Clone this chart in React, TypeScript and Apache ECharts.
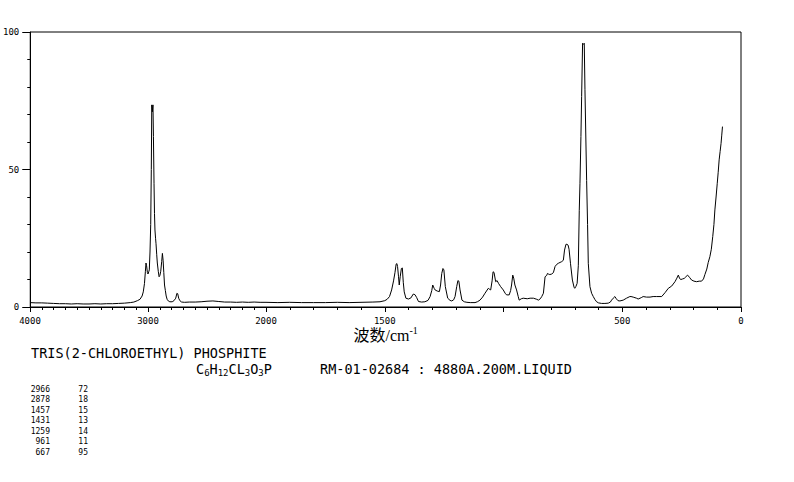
import React, { useEffect, useRef } from "react";
import * as echarts from "echarts";

// Raman spectrum trace (wavenumber cm-1, intensity %)
const wavenumbers = [
  4000, 3950, 3900, 3850, 3800, 3750, 3700, 3650, 3600, 3550, 3500, 3450, 3400, 3350, 3300, 3250, 3200, 3150, 3120, 3090,
  3068, 3050, 3040, 3030, 3022, 3017, 3012, 3005, 3000, 2994, 2989, 2983, 2977, 2972, 2968, 2963, 2958, 2954, 2949, 2945,
  2941, 2936, 2932, 2926, 2921, 2913, 2906, 2899, 2892, 2884, 2878, 2872, 2866, 2860, 2853, 2846, 2838, 2828, 2815, 2795,
  2780, 2765, 2755, 2748, 2740, 2730, 2715, 2690, 2650, 2600, 2550, 2500, 2450, 2400, 2350, 2300, 2250, 2200, 2150, 2100,
  2050, 2000, 1950, 1900, 1850, 1800, 1750, 1700, 1650, 1600, 1550, 1520, 1500, 1490, 1480, 1471, 1463, 1457, 1452, 1449,
  1446, 1442, 1439, 1435, 1430, 1426, 1422, 1418, 1411, 1400, 1390, 1380, 1373, 1366, 1358, 1345, 1331, 1318, 1309, 1302,
  1298, 1292, 1288, 1279, 1270, 1265, 1260, 1255, 1251, 1245, 1235, 1225, 1218, 1210, 1204, 1197, 1192, 1188, 1183, 1175,
  1165, 1154, 1140, 1120, 1110, 1099, 1088, 1078, 1064, 1058, 1054, 1048, 1044, 1040, 1033, 1027, 1021, 1012, 1001, 993,
  987, 976, 970, 966, 961, 957, 952, 945, 938, 934, 925, 917, 900, 888, 874, 860, 853, 845, 839, 832,
  825, 818, 815, 811, 805, 797, 790, 783, 776, 769, 762, 755, 748, 743, 737, 733, 728, 724, 718, 710,
  703, 700, 695, 690, 685, 681, 678, 674, 671, 667, 664, 660, 657, 653, 650, 646, 643, 636, 629, 622,
  615, 608, 600, 587, 573, 559, 550, 545, 538, 531, 525, 518, 510, 496, 482, 468, 463, 454, 440, 433,
  420, 412, 398, 383, 370, 355, 334, 320, 306, 292, 278, 270, 264, 258, 253, 246, 239, 232, 225, 217,
  208, 198, 187, 176, 166, 158, 152, 144, 138, 131, 125, 119, 114, 110, 105, 100, 96, 92, 88, 84,
  81, 78,
];
const intensities = [
  1.6, 1.5, 1.5, 1.4, 1.3, 1.2, 1.2, 1.1, 1.2, 1.1, 1.1, 1.2, 1.1, 1.2, 1.2, 1.3, 1.4, 1.6, 1.8, 2.3,
  2.8, 4.0, 5.5, 8.5, 13, 16, 15, 12.5, 12, 12.8, 13.5, 20, 30, 50, 73.5, 71, 73.5, 62, 45, 34,
  28, 25, 23, 19, 16, 13, 11, 11.5, 13, 16.5, 19.5, 17, 12.5, 8, 6, 4, 2.8, 2.2, 1.9, 1.9,
  2.3, 3.2, 5.0, 4.8, 3.2, 2.3, 1.8, 1.7, 1.8, 1.8, 1.9, 2.1, 2.2, 2.0, 1.8, 1.8, 1.7, 1.8, 1.7, 1.8,
  1.7, 1.7, 1.6, 1.7, 1.6, 1.6, 1.6, 1.7, 1.6, 1.7, 1.8, 1.9, 2.3, 2.8, 3.8, 6.2, 9.5, 12.5, 15.6, 15.8,
  14.7, 11, 8, 11, 14, 14.2, 9, 5.5, 3.2, 2.9, 3.3, 4.7, 4.5, 3.5, 2.0, 1.8, 1.9, 2.4, 3.8, 6,
  8, 6.8, 6.2, 5.8, 5.6, 8, 12.2, 14, 13.5, 7.4, 3.2, 2.4, 2.2, 2.6, 3.8, 7.4, 9.6, 9.4, 6.2, 2.5,
  1.9, 1.7, 1.6, 1.6, 1.9, 2.5, 3.6, 5.0, 6.8, 6.4, 6.2, 9.5, 12.8, 12.6, 9.2, 9.6, 8.6, 7.4, 6.2, 5,
  4.4, 4.4, 6, 8, 11.6, 10.5, 8, 6.2, 3.8, 2.5, 3.0, 3.2, 3.0, 3.2, 3.2, 2.8, 2.5, 3.0, 3.8, 5,
  11, 11.5, 12.2, 12, 11.8, 12, 12.5, 14.7, 15.5, 15.9, 16.2, 16.5, 17, 20.7, 22.8, 22.8, 22.5, 21, 15.9, 9.8,
  7.2, 6.8, 7.5, 8.6, 15, 35, 45, 62, 76.5, 95.9, 95.5, 95.9, 79, 60, 46, 30, 15.9, 7.4, 5, 3.8,
  2.7, 1.9, 1.5, 1.3, 1.3, 1.4, 1.8, 2.5, 3.2, 3.8, 3.0, 2.3, 2.2, 2.5, 3.2, 3.8, 3.8, 3.6, 3.2, 2.9,
  3.4, 3.8, 3.6, 3.6, 3.8, 3.8, 3.8, 5.2, 6.8, 7.6, 9.2, 10.5, 11.6, 10.3, 10, 10.2, 10.4, 11, 11.6, 10.8,
  9.8, 9.4, 9.2, 9.4, 9.4, 10.2, 11.8, 13.8, 16.2, 18.3, 21, 25.6, 30, 35.3, 40, 45, 49, 53.5, 56.5, 59.5,
  62.5, 65.6,
];

const xTickLabels = [4000, 3000, 2000, 1500, 500, 0];
const axisBreak = 2000;
const compoundName = "TRIS(2-CHLOROETHYL) PHOSPHITE";
const formulaParts = [
  ["C", "6"],
  ["H", "12"],
  ["CL", "3"],
  ["O", "3"],
  ["P", ""],
];
const sampleInfo = "RM-01-02684 : 4880A.200M.LIQUID";
const peakWavenumbers = [2966, 2878, 1457, 1431, 1259, 961, 667];
const peakIntensities = [72, 18, 15, 13, 14, 11, 95];

const MONO = "'DejaVu Sans Mono', 'Liberation Mono', monospace";

export default function App() {
  const ref = useRef<HTMLDivElement>(null);

  useEffect(() => {
    if (!ref.current) return;
    const chart = echarts.init(ref.current, undefined, { renderer: "svg" });

    const pairs = wavenumbers.map((w, i) => [w, intensities[i]]);
    const highPart = pairs.filter((p) => p[0] >= axisBreak);
    const lowPart = pairs.filter((p) => p[0] <= axisBreak);

    const tickLabelStyle = {
      color: "#000",
      fontFamily: MONO,
      fontSize: 9,
      margin: 9,
    };

    const formulaText = formulaParts
      .map(([el, n]) => `{b|${el}}` + (n ? `{s|${n}}` : ""))
      .join("");

    const graphics: any[] = [
      {
        type: "text",
        x: 31,
        y: 346,
        style: { text: compoundName, font: `13.5px ${MONO}`, fill: "#000" },
      },
      {
        type: "text",
        x: 196,
        y: 361,
        style: {
          text: formulaText,
          fill: "#000",
          rich: {
            b: { fontFamily: MONO, fontSize: 13.5, fill: "#000", lineHeight: 16 },
            s: { fontFamily: MONO, fontSize: 9, fill: "#000", lineHeight: 16, padding: [7, 0, 0, 0] },
          },
        },
      },
      {
        type: "text",
        x: 320,
        y: 362,
        style: { text: sampleInfo, font: `13.5px ${MONO}`, fill: "#000" },
      },
    ];
    peakWavenumbers.forEach((w, i) => {
      const y = 389 + i * 10.5;
      graphics.push({
        type: "text",
        x: 50,
        y,
        style: { text: String(w), font: `8px ${MONO}`, fill: "#000", textAlign: "right", textVerticalAlign: "middle" },
      });
      graphics.push({
        type: "text",
        x: 88,
        y,
        style: { text: String(peakIntensities[i]), font: `8px ${MONO}`, fill: "#000", textAlign: "right", textVerticalAlign: "middle" },
      });
    });

    const option: any = {
      animation: false,
      backgroundColor: "#fff",
      grid: [
        { left: 30, top: 32, width: 711, height: 275, show: true, borderColor: "#000", borderWidth: 1, backgroundColor: "transparent" },
        { left: 30, top: 32, width: 236, height: 275 },
        { left: 266, top: 32, width: 475, height: 275 },
      ],
      xAxis: [
        {
          gridIndex: 0,
          type: "value",
          min: 0,
          max: 1,
          axisLine: { show: false },
          axisTick: { show: false },
          axisLabel: { show: false },
          splitLine: { show: false },
          name: "{a|波数/cm}{b|-1}",
          nameLocation: "middle",
          nameGap: 18,
          nameTextStyle: {
            rich: {
              a: { fontFamily: "'Liberation Serif', 'Noto Sans CJK SC', serif", fontSize: 16, color: "#000", lineHeight: 20 },
              b: { fontFamily: "'Liberation Serif', serif", fontSize: 10, color: "#000", lineHeight: 20, verticalAlign: "top", padding: [0, 0, 8, 0] },
            },
          },
        },
        {
          gridIndex: 1,
          type: "value",
          min: 2000,
          max: 4000,
          inverse: true,
          interval: 1000,
          axisLine: { onZero: false, lineStyle: { color: "#000", width: 1 } },
          axisTick: { length: 5, lineStyle: { color: "#000" } },
          minorTick: { show: true, splitNumber: 10, length: 3, lineStyle: { color: "#000" } },
          axisLabel: {
            ...tickLabelStyle,
            formatter: (v: number) => (xTickLabels.includes(v) ? String(v) : ""),
          },
          splitLine: { show: false },
        },
        {
          gridIndex: 2,
          type: "value",
          min: 0,
          max: 2000,
          inverse: true,
          interval: 500,
          axisLine: { onZero: false, lineStyle: { color: "#000", width: 1 } },
          axisTick: { length: 5, lineStyle: { color: "#000" } },
          minorTick: { show: true, splitNumber: 5, length: 3, lineStyle: { color: "#000" } },
          axisLabel: {
            ...tickLabelStyle,
            formatter: (v: number) => (v !== axisBreak && xTickLabels.includes(v) ? String(v) : ""),
          },
          splitLine: { show: false },
        },
      ],
      yAxis: [
        {
          gridIndex: 0,
          type: "value",
          min: 0,
          max: 100,
          interval: 50,
          axisLine: { show: true, lineStyle: { color: "#000", width: 1 } },
          axisTick: { show: true, length: 8, lineStyle: { color: "#000" } },
          minorTick: { show: true, splitNumber: 5, length: 3, lineStyle: { color: "#000" } },
          axisLabel: { color: "#000", fontFamily: MONO, fontSize: 9, margin: 11 },
          splitLine: { show: false },
        },
        { gridIndex: 1, type: "value", min: 0, max: 100, show: false },
        { gridIndex: 2, type: "value", min: 0, max: 100, show: false },
      ],
      series: [
        {
          type: "line",
          xAxisIndex: 1,
          yAxisIndex: 1,
          data: highPart,
          showSymbol: false,
          symbol: "none",
          lineStyle: { color: "#000", width: 1 },
          silent: true,
        },
        {
          type: "line",
          xAxisIndex: 2,
          yAxisIndex: 2,
          data: lowPart,
          showSymbol: false,
          symbol: "none",
          lineStyle: { color: "#000", width: 1 },
          silent: true,
        },
      ],
      graphic: graphics,
    };

    chart.setOption(option);
    return () => chart.dispose();
  }, []);

  return (
    <div
      ref={ref}
      style={{ position: "fixed", left: 0, top: 0, width: 794, height: 482, background: "#fff" }}
    />
  );
}
